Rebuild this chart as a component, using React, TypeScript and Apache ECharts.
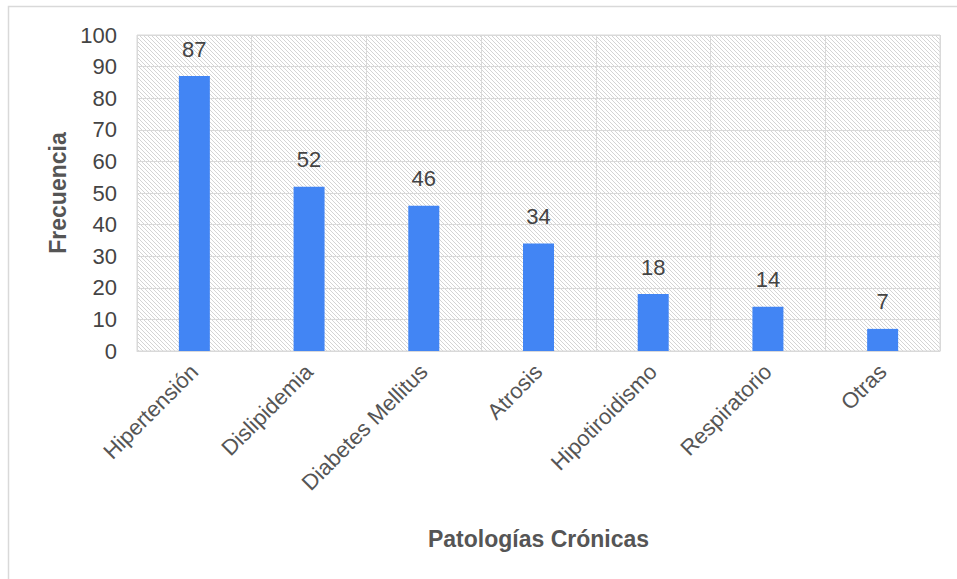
import React, { useEffect, useRef } from "react";
import * as echarts from "echarts";

const categories = ["Hipertensión", "Dislipidemia", "Diabetes Mellitus", "Atrosis", "Hipotiroidismo", "Respiratorio", "Otras"];
const values = [87, 52, 46, 34, 18, 14, 7];
const yMin = 0;
const yMax = 100;
const yInterval = 10;

const hatchSvg =
  "data:image/svg+xml;utf8," +
  encodeURIComponent(
    '<svg xmlns="http://www.w3.org/2000/svg" width="4" height="4"><rect width="4" height="4" fill="#ffffff"/><path d="M-1,-1 L5,5 M-1,3 L1,5 M3,-1 L5,1" stroke="#d4d4d4" stroke-width="1"/></svg>'
  );

export default function App() {
  const ref = useRef<HTMLDivElement>(null);
  useEffect(() => {
    if (!ref.current) return;
    const chart = echarts.init(ref.current, undefined, { renderer: "svg" });
    const font = "'Liberation Sans', Arial, sans-serif";
    chart.setOption({
      animation: false,
      backgroundColor: "#ffffff",
      textStyle: { fontFamily: font },
      grid: {
        left: 137,
        right: 17,
        top: 35,
        bottom: 228,
        show: true,
        borderColor: "#d9d9d9",
        borderWidth: 1,
        backgroundColor: { image: hatchSvg, repeat: "repeat" } as any,
      },
      graphic: [
        {
          type: "rect",
          shape: { x: 8.5, y: 6.5, width: 1200, height: 1200 },
          style: { fill: "none", stroke: "#d9d9d9", lineWidth: 1.5 },
          silent: true,
          z: -10,
        },
      ],
      xAxis: {
        type: "category",
        data: categories,
        name: "Patologías Crónicas",
        nameLocation: "middle",
        nameGap: 176,
        nameTextStyle: { fontSize: 23, fontWeight: "bold", color: "#555555", fontFamily: font },
        axisLine: { show: true, lineStyle: { color: "#d9d9d9" } },
        axisTick: { show: false },
        splitLine: { show: true, lineStyle: { color: "#d9d9d9" } },
        axisLabel: { rotate: 45, fontSize: 22, color: "#555555", margin: 17, fontFamily: font },
      },
      yAxis: {
        type: "value",
        min: yMin,
        max: yMax,
        interval: yInterval,
        name: "Frecuencia",
        nameLocation: "middle",
        nameGap: 68,
        nameTextStyle: { fontSize: 23, fontWeight: "bold", color: "#555555", fontFamily: font },
        axisLine: { show: false },
        axisTick: { show: false },
        splitLine: { show: true, lineStyle: { color: "#d9d9d9" } },
        axisLabel: { fontSize: 22, color: "#444444", margin: 20, fontFamily: font },
      },
      series: [
        {
          type: "bar",
          data: values,
          barWidth: 31,
          itemStyle: { color: "#4285f4" },
          label: { show: true, position: "top", distance: 16, fontSize: 22, color: "#444444", fontFamily: font },
        },
      ],
    });
    return () => chart.dispose();
  }, []);
  return <div ref={ref} style={{ position: "fixed", left: 0, top: 0, width: 957, height: 579 }} />;
}
